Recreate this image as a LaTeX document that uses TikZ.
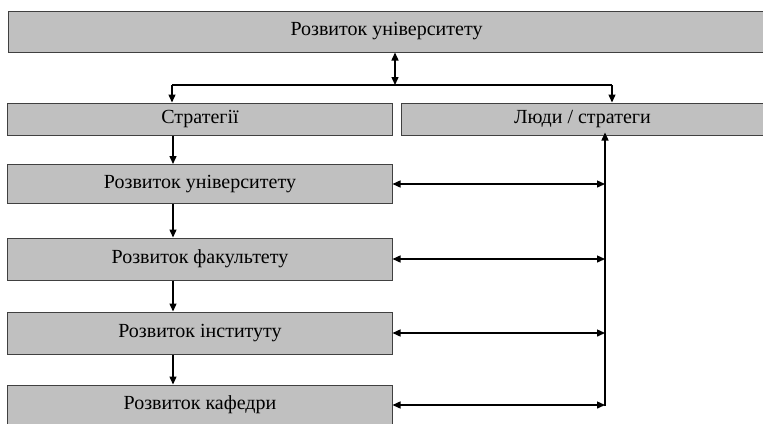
\documentclass[tikz,border=0pt]{standalone}
\usepackage{fontspec}
\setmainfont{Liberation Serif}
\usetikzlibrary{arrows.meta}
\definecolor{boxfill}{HTML}{C0C0C0}
\definecolor{boxline}{HTML}{404040}
\begin{document}
\begin{tikzpicture}[x=1bp,y=-1bp,
  box/.style={draw=boxline, fill=boxfill, line width=1bp, inner sep=0pt, font=\fontsize{20bp}{24bp}\selectfont},
  conn/.style={line width=1.4bp, -{Triangle[length=8bp,width=7bp]}},
  dconn/.style={line width=1.4bp, {Triangle[length=8bp,width=7bp]}-{Triangle[length=8bp,width=7bp]}}]
\useasboundingbox (0,0) rectangle (763,423);
\node[box, minimum width=756bp, minimum height=41bp] (top) at (386.5,31.5) {Розвиток університету};
\node[box, minimum width=384bp, minimum height=32bp] (strat) at (200,119) {Стратегії};
\node[box, minimum width=363bp, minimum height=32bp] (lyudy) at (582.5,119) {Люди / стратеги};
\node[box, minimum width=384bp, minimum height=39bp] (u) at (200,184) {Розвиток університету};
\node[box, minimum width=384bp, minimum height=42bp] (f) at (200,259) {Розвиток факультету};
\node[box, minimum width=384bp, minimum height=42bp] (i) at (200,333) {Розвиток інституту};
\node[box, minimum width=384bp, minimum height=40bp] (k) at (200,405) {Розвиток кафедри};
\coordinate (hub) at (395,85);
\coordinate (hl) at (172,85);
\coordinate (hr) at (612,85);
\draw[dconn] (top.south -| hub) -- (hub);
\draw[line width=1.4bp] (hl) -- (hr);
\draw[conn] (hl) -- (hl |- strat.north);
\draw[conn] (hr) -- (hr |- lyudy.north);
\coordinate (vx) at (173,0);
\draw[conn] (strat.south -| vx) -- (u.north -| vx);
\draw[conn] (u.south -| vx) -- (f.north -| vx);
\draw[conn] (f.south -| vx) -- (i.north -| vx);
\draw[conn] (i.south -| vx) -- (k.north -| vx);
\coordinate (bus) at (605,406);
\draw[conn] (bus) -- ([yshift=3bp]bus |- lyudy.south);
\draw[dconn] (u.east) -- (u.east -| bus);
\draw[dconn] (f.east) -- (f.east -| bus);
\draw[dconn] (i.east) -- (i.east -| bus);
\draw[dconn] (k.east) -- (k.east -| bus);
\end{tikzpicture}
\end{document}
